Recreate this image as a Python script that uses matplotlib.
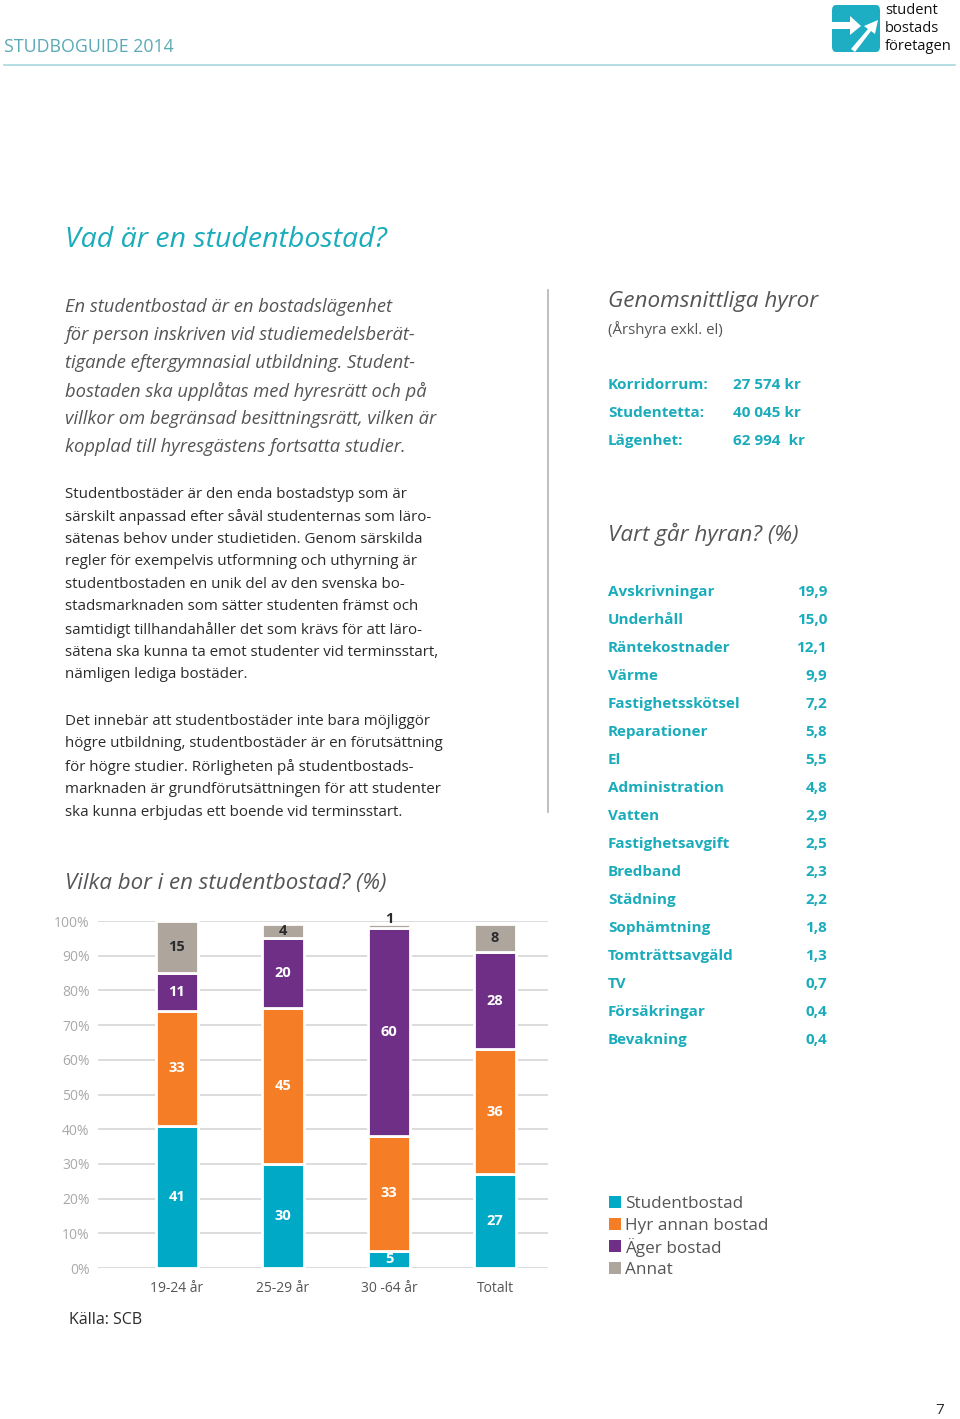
import numpy as np
import matplotlib.pyplot as plt
from matplotlib.patches import FancyBboxPatch, Polygon, Rectangle

plt.rcParams['font.family'] = ['Open Sans', 'DejaVu Sans']

W, H = 960, 1419

# --- data -------------------------------------------------------------
groups = ['19-24 år', '25-29 år', '30 -64 år', 'Totalt']
series = ['Studentbostad', 'Hyr annan bostad', 'Äger bostad', 'Annat']
studentbostad = [41, 30, 5, 27]
hyr_annan = [33, 45, 33, 36]
ager_bostad = [11, 20, 60, 28]
annat = [15, 4, 1, 8]
yticks = [0, 10, 20, 30, 40, 50, 60, 70, 80, 90, 100]

hyror_labels = ['Korridorrum:', 'Studentetta:', 'Lägenhet:']
hyror_values = ['27 574 kr', '40 045 kr', '62 994  kr']

kost_labels = ['Avskrivningar', 'Underhåll', 'Räntekostnader', 'Värme', 'Fastighetsskötsel',
               'Reparationer', 'El', 'Administration', 'Vatten', 'Fastighetsavgift',
               'Bredband', 'Städning', 'Sophämtning', 'Tomträttsavgäld', 'TV',
               'Försäkringar', 'Bevakning']
kost_values = [19.9, 15.0, 12.1, 9.9, 7.2, 5.8, 5.5, 4.8, 2.9, 2.5, 2.3, 2.2, 1.8, 1.3, 0.7, 0.4, 0.4]

colors = ['#00a9c6', '#f47d26', '#6f2f87', '#aea69d']
teal = '#1aacbb'
grey_txt = '#555558'
dark_txt = '#2b2b2d'

fig = plt.figure(figsize=(W / 100, H / 100), dpi=100)


def T(x, y, s, **kw):
    kw.setdefault('va', 'center')
    fig.text(x / W, 1 - (y + 2) / H, s, **kw)


# --- header -----------------------------------------------------------
T(4, 45, 'STUDBOGUIDE 2014', fontsize=12.8, color='#5aa9b6')
fig.add_artist(plt.Line2D([4 / W, 955 / W], [1 - 65 / H, 1 - 65 / H], color='#a8d8df', lw=1.2))
fig.add_artist(FancyBboxPatch((832 / W, 1 - 52 / H), 48 / W, 47 / H,
                              boxstyle='round,pad=0,rounding_size=0.004', fc='#1eaec4', ec='none'))
arrow = [(832, 22), (850, 22), (850, 16), (861, 26), (850, 35), (850, 29), (832, 29)]
fig.add_artist(Polygon([(x / W, 1 - y / H) for x, y in arrow], closed=True, fc='white', ec='none'))
diag = [(851, 49), (868, 29), (864, 26), (878, 20), (875, 34), (871, 31), (855, 52)]
fig.add_artist(Polygon([(x / W, 1 - y / H) for x, y in diag], closed=True, fc='white', ec='none'))
for i, w in enumerate(['student', 'bostads', 'företagen']):
    T(885, 9 + 18 * i, w, fontsize=10.5, color='#111111')

# --- left column text -------------------------------------------------
T(65, 238, 'Vad är en studentbostad?', fontsize=20.5, color=teal, style='italic')

intro = ['En studentbostad är en bostadslägenhet',
         'för person inskriven vid studiemedelsberät-',
         'tigande eftergymnasial utbildning. Student-',
         'bostaden ska upplåtas med hyresrätt och på',
         'villkor om begränsad besittningsrätt, vilken är',
         'kopplad till hyresgästens fortsatta studier.']
for i, line in enumerate(intro):
    T(65, 305 + 28 * i, line, fontsize=13.2, color=grey_txt, style='italic')

para1 = ['Studentbostäder är den enda bostadstyp som är',
         'särskilt anpassad efter såväl studenternas som läro-',
         'sätenas behov under studietiden. Genom särskilda',
         'regler för exempelvis utformning och uthyrning är',
         'studentbostaden en unik del av den svenska bo-',
         'stadsmarknaden som sätter studenten främst och',
         'samtidigt tillhandahåller det som krävs för att läro-',
         'sätena ska kunna ta emot studenter vid terminsstart,',
         'nämligen lediga bostäder.']
for i, line in enumerate(para1):
    T(65, 492 + 22.6 * i, line, fontsize=10.9, color=dark_txt)

para2 = ['Det innebär att studentbostäder inte bara möjliggör',
         'högre utbildning, studentbostäder är en förutsättning',
         'för högre studier. Rörligheten på studentbostads-',
         'marknaden är grundförutsättningen för att studenter',
         'ska kunna erbjudas ett boende vid terminsstart.']
for i, line in enumerate(para2):
    T(65, 719 + 22.8 * i, line, fontsize=10.9, color=dark_txt)

fig.add_artist(plt.Line2D([548 / W, 548 / W], [1 - 290 / H, 1 - 812 / H], color='#b5b5b5', lw=1.2))

# --- right column -----------------------------------------------------
T(608, 300, 'Genomsnittliga hyror', fontsize=16.2, color=grey_txt, style='italic')
T(608, 327, '(Årshyra exkl. el)', fontsize=10.8, color=grey_txt)
for i, (lab, val) in enumerate(zip(hyror_labels, hyror_values)):
    T(608, 383 + 28 * i, lab, fontsize=11, color=teal, weight='bold')
    T(733, 383 + 28 * i, val, fontsize=11, color=teal, weight='bold')

T(608, 532, 'Vart går hyran? (%)', fontsize=16.2, color=grey_txt, style='italic')
for i, (lab, val) in enumerate(zip(kost_labels, kost_values)):
    T(608, 590 + 28 * i, lab, fontsize=11, color=teal, weight='bold')
    T(827, 590 + 28 * i, f'{val:.1f}'.replace('.', ','), fontsize=11, color=teal,
      weight='bold', ha='right')

# --- chart ------------------------------------------------------------
T(65, 881, 'Vilka bor i en studentbostad? (%)', fontsize=16, color=grey_txt, style='italic')

ax = fig.add_axes([98 / W, 1 - 1268 / H, 450 / W, 347 / H])
x = np.arange(len(groups))
data = [studentbostad, hyr_annan, ager_bostad, annat]
bottom = np.zeros(len(groups))
for k, (vals, c) in enumerate(zip(data, colors)):
    vals = np.array(vals, dtype=float)
    ax.bar(x, vals, 0.39, bottom=bottom, color=c, edgecolor='white', linewidth=2,
           zorder=3, label=series[k])
    for xi, v, b in zip(x, vals, bottom):
        tc = dark_txt if k == 3 else 'white'
        yy = b + v / 2
        if v < 3:
            yy = b + v + 1.5
        ax.text(xi, yy, f'{int(v)}', ha='center', va='center', fontsize=10.5,
                weight='bold', color=tc, zorder=4, clip_on=False)
    bottom += vals

ax.set_xlim(-0.745, 3.5)
ax.set_ylim(0, 100)
ax.set_yticks(yticks)
ax.set_yticklabels([f'{t}%' for t in yticks], color='#a9a9ab', fontsize=10)
ax.set_xticks(x)
ax.set_xticklabels(groups, color=grey_txt, fontsize=10)
ax.tick_params(axis='both', length=0, pad=6)
ax.tick_params(axis='x', pad=9)
ax.grid(axis='y', color='#d6d6d6', lw=1.2, zorder=0)
for s in ax.spines.values():
    s.set_visible(False)

T(69, 1318, 'Källa: SCB', fontsize=11.5, color=dark_txt)

# legend
for i, (lab, c) in enumerate(zip(series, colors)):
    fig.add_artist(Rectangle((609 / W, 1 - (1202 + 22 * i + 6) / H), 12 / W, 12 / H,
                             fc=c, ec='none'))
    T(625, 1202 + 22 * i, lab, fontsize=12.3, color=grey_txt)

T(940, 1408, '7', fontsize=11, color=dark_txt, ha='center')

fig.savefig('out.png', dpi=100)
